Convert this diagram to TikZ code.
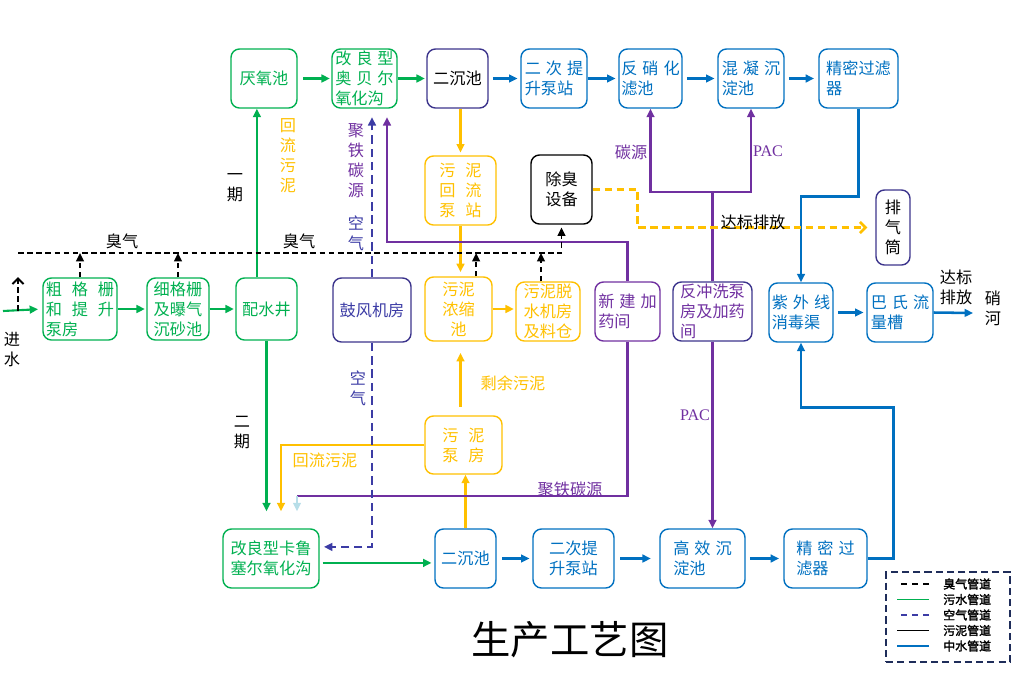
\documentclass[tikz,border=0pt]{standalone}
\usepackage{fontspec}
\setmainfont{Noto Sans CJK SC}[AutoFakeBold=2]
\newfontfamily\latin{Liberation Serif}
\usetikzlibrary{arrows.meta, positioning, calc}
\definecolor{sewgreen}{RGB}{0,176,80}
\definecolor{reuseblue}{RGB}{0,112,192}
\definecolor{sludgeorange}{RGB}{255,192,0}
\definecolor{dosepurple}{RGB}{112,48,160}
\definecolor{boxnavy}{RGB}{60,52,140}
\definecolor{airblue}{RGB}{60,60,165}
\definecolor{paleblue}{RGB}{183,222,232}
\definecolor{legnavy}{RGB}{31,45,90}
\newcommand{\sk}{\hspace{3.5pt}}
\newcommand{\skk}{\hspace{7pt}}

\begin{document}
\begin{tikzpicture}[x=0.025cm, y=-0.025cm,
  font=\fontsize{11.5}{14.2}\selectfont,
  arrtip/.style={-{Triangle[length=6pt, width=5.5pt]}},
  wh/.style 2 args={minimum width=#1*0.025cm, minimum height=#2*0.025cm},
  proc/.style={rectangle, rounded corners=6pt, line width=1pt,
              align=left, inner sep=1pt},
  gbox/.style={proc, draw=sewgreen, text=sewgreen},
  bbox/.style={proc, draw=reuseblue, text=reuseblue},
  obox/.style={proc, draw=sludgeorange, text=sludgeorange},
  pbox/.style={proc, draw=dosepurple, text=dosepurple},
  nbox/.style={proc, draw=boxnavy, text=black},
  kbox/.style={proc, draw=black, text=black},
  garr/.style={arrtip, line width=1.5pt, sewgreen},
  barr/.style={arrtip, line width=1.8pt, reuseblue},
  oarr/.style={arrtip, line width=1.5pt, sludgeorange},
  parr/.style={arrtip, line width=1.5pt, dosepurple},
  pline/.style={line width=1.5pt, dosepurple},
  narr/.style={arrtip, line width=1.8pt, airblue, dash pattern=on 6pt off 3.5pt},
  karr/.style={arrtip, line width=1.4pt, black, dash pattern=on 4pt off 2.5pt},
  kbarb/.style={-{Straight Barb[length=4pt, width=8pt]}, line width=1.4pt,
              black, dash pattern=on 4pt off 2.5pt},
  yarr/.style={-{Straight Barb[length=4pt, width=8pt]}, line width=1.8pt,
              sludgeorange, dash pattern=on 5.5pt off 3pt},
  lbl/.style={inner sep=0pt, align=center},
  legtxt/.style={inner sep=0pt, font=\fontsize{8.5}{10}\selectfont\bfseries},
  legodo/.style={black, line width=0.8pt, dash pattern=on 4pt off 4pt},
  legsew/.style={sewgreen, line width=1pt},
  legair/.style={airblue, line width=0.8pt, dash pattern=on 4pt off 4pt},
  legsld/.style={black, line width=0.8pt},
  legre/.style={reuseblue, line width=1pt}
]
\useasboundingbox (0,0) rectangle (1021,680);

% ── Top row: phase-1 line and tertiary treatment ──
\node[gbox, wh={66}{59}] (yy)   at (264,78.5)   {厌氧池};
\node[gbox, wh={65}{59}] (abr)  at (364.5,78.5) {改\sk{}良\sk{}型\\奥\sk{}贝\sk{}尔\\氧化沟};
\node[nbox, wh={61}{59}] (ec1)  at (457.5,78.5) {二沉池};
\node[bbox, wh={66}{59}] (tsb1) at (554,78.5)   {二\sk{}次\sk{}提\\升泵站};
\node[bbox, wh={63}{59}] (fxh)  at (650.5,78.5) {反\sk{}硝\sk{}化\\滤池};
\node[bbox, wh={66}{59}] (hnc)  at (751,78.5)   {混\sk{}凝\sk{}沉\\淀池};
\node[bbox, wh={79}{59}] (jm1)  at (858.5,78.5) {精密过滤\\器};

% ── Middle: sludge return, deodorising, stack ──
\node[obox, wh={71}{69}] (hlb) at (460.5,190.5) {污\skk{}泥\\回\skk{}流\\泵\skk{}站};
\node[kbox, wh={61}{69}] (cc)  at (561.5,189.5) {除臭\\设备};
\node[nbox, wh={34}{75}, align=center] (pqt) at (893,227.5) {排\\气\\筒};

% ── Second row: pretreatment, blowers, sludge, dosing, outfall ──
\node[gbox, wh={74}{62}] (cgs) at (80,309)    {粗\skk{}格\skk{}栅\\和\skk{}提\skk{}升\\泵房};
\node[gbox, wh={62}{62}] (xgs) at (178,309)   {细格栅\\及曝气\\沉砂池};
\node[gbox, wh={61}{62}] (psj) at (266.5,309) {配水井};
\node[nbox, wh={78}{64}, text=airblue] (gfj) at (372,310) {鼓风机房};
\node[obox, wh={67}{64}, align=center] (nsc) at (458.5,309) {污泥\\浓缩\\池};
\node[obox, wh={64}{59}] (tsj) at (548,311.5) {污泥脱\\水机房\\及料仓};
\node[pbox, wh={65}{59}] (xjy) at (627.5,311.5) {新\sk{}建\sk{}加\\药间};
\node[nbox, wh={79}{59}, text=dosepurple] (fcx) at (712.5,311.5) {反冲洗泵\\房及加药\\间};
\node[bbox, wh={64}{59}] (zwx) at (801,312.5) {紫\sk{}外\sk{}线\\消毒渠};
\node[bbox, wh={66}{59}] (bsl) at (900,312.5) {巴\sk{}氏\sk{}流\\量槽};

\node[obox, wh={77}{58}] (wnb) at (463.5,445) {污\skk{}泥\\泵\skk{}房};

% ── Bottom row: phase-2 line ──
\node[gbox, wh={96}{59}] (kls)  at (271,558.5)   {改良型卡鲁\\塞尔氧化沟};
\node[bbox, wh={61}{59}] (ec2)  at (465.5,558.5) {二沉池};
\node[bbox, wh={81}{59}, align=center] (tsb2) at (573.5,558.5) {二次提\\升泵站};
\node[bbox, wh={85}{59}] (gxc)  at (702.5,558.5) {高\sk{}效\sk{}沉\\淀池};
\node[bbox, wh={83}{59}] (jm2)  at (825.5,558.5) {精\sk{}密\sk{}过\\滤器};

% ── Sewage (green) ──
\coordinate (inw) at (3,311);
\draw[garr, shorten >=3pt] (inw) -- (cgs.west);
\draw[garr, shorten >=1pt] (cgs.east) -- (xgs.west);
\draw[garr, shorten >=1pt] (xgs.east) -- (psj.west);
\draw[garr] ([xshift=-0.24cm]psj.north) -- ([xshift=-0.24cm]psj.north |- yy.south);
\draw[garr] (psj.south) -- ($(psj.south |- kls.north)+(0,-17)$);
\draw[garr, shorten <=4pt, shorten >=1pt] (yy.east) -- (abr.west);
\draw[garr, shorten >=1pt] (abr.east) -- (ec1.west);
\draw[garr, shorten <=2pt, shorten >=2pt] ([yshift=-0.11cm]kls.east) -- ([yshift=-0.11cm]kls.east -| ec2.west);

% ── Reclaimed water (blue) ──
\draw[barr, shorten <=3pt, shorten >=2pt] (ec1.east) -- (tsb1.west);
\draw[barr, shorten >=2pt] (tsb1.east) -- (fxh.west);
\draw[barr, shorten <=3pt, shorten >=2pt] (fxh.east) -- (hnc.west);
\draw[barr, shorten <=3pt, shorten >=3pt] (hnc.east) -- (jm1.west);
\draw[barr] (jm1.south) -- ++(0,88) -| (zwx.north);
\draw[barr, shorten <=3pt, shorten >=2pt] (zwx.east) -- (bsl.west);
\coordinate (outw) at (973,313);
\draw[barr] (bsl.east) -- (outw);
\draw[barr, shorten <=4pt, shorten >=2pt] (ec2.east) -- (tsb2.west);
\draw[barr, shorten <=4pt, shorten >=6pt] (tsb2.east) -- (gxc.west);
\draw[barr, shorten <=3pt, shorten >=3pt] (gxc.east) -- (jm2.west);
\draw[barr] (jm2.east) -- ++(26,0) |- ($(zwx.south)+(0,65)$) -- (zwx.south);

% ── Sludge (orange) ──
\draw[oarr, shorten >=2pt] (hlb.north |- ec1.south) -- (hlb.north);
\draw[oarr, shorten >=3pt] (hlb.south) -- (hlb.south |- nsc.north);
\draw[oarr, shorten >=1pt] (nsc.east) -- (nsc.east -| tsj.west);
\draw[oarr, shorten <=6pt, shorten >=8pt] (wnb.north -| hlb.south) -- (nsc.south -| hlb.south);
\draw[oarr] (ec2.north) -- (ec2.north |- wnb.south);
\draw[oarr] (wnb.west) -| ($(kls.north)+(10,-17)$);

% ── Dosing (purple) ──
\draw[parr, shorten >=6pt] (xjy.north) -- ++(0,-39) -| ([xshift=22.5*0.025cm]abr.south);
\coordinate (pend) at ($(kls.north)+(26,-32)$);
\draw[pline] (xjy.south) |- (pend);
\draw[arrtip, line width=1.2pt, paleblue] (pend) -- ++(0,15);
\draw[pline] (fcx.north) -- ++(0,-89) coordinate (pj);
\draw[parr] (pj) -| (fxh.south);
\draw[parr] (pj) -| (hnc.south);
\draw[parr] (fcx.south) -- (fcx.south |- gxc.north);

% ── Air (navy dashed) ──
\draw[narr, shorten >=6pt] (gfj.north) -- (gfj.north |- abr.south);
\draw[narr, shorten >=3pt] (gfj.south) |- ([yshift=0.29cm]kls.east);

% ── Odour (black dashed) and exhaust (yellow dashed) ──
\coordinate (odo) at (18,253);
\draw[karr, shorten >=2pt] (odo) -| (cc.south);
\draw[karr] (cgs.north) -- (cgs.north |- odo);
\draw[karr] (xgs.north) -- (xgs.north |- odo);
\draw[karr] ([xshift=0.44cm]nsc.north) -- ([xshift=0.44cm]nsc.north |- odo);
\draw[karr] ([xshift=-0.175cm]tsj.north) -- ([xshift=-0.175cm]tsj.north |- odo);
\draw[kbarb] ($(inw)+(15,0)$) -- ++(0,-34);
\draw[yarr] (cc.east) -- ++(45,0) |- ($(pqt.west)+(-8,0)$);

% ── Labels ──
\node[lbl] (lin)  at (12,350)  {进\\水};
\node[lbl] (lp1)  at (235,188) {一\\期};
\node[lbl] (lp2)  at (242,433) {二\\期};
\node[lbl] (lod1) at (122,241) {臭气};
\node[lbl] (lod2) at (299,241) {臭气};
\node[lbl, text=sludgeorange] (lret) at (288,156) {回\\流\\污\\泥};
\node[lbl, text=dosepurple] (lfe1) at (356,161) {聚\\铁\\碳\\源};
\node[lbl, text=airblue] (lair1) at (356,233) {空\\气};
\node[lbl, text=airblue] (lair2) at (358,388) {空\\气};
\node[lbl, text=dosepurple] (lc) at (631,152) {碳源};
\node[lbl, text=dosepurple] (lpac1) at (768,151) {\latin PAC};
\node[lbl, text=dosepurple] (lpac2) at (695,415) {\latin PAC};
\node[lbl] (lstd1) at (753,222) {达标排放};
\node[lbl, text=sludgeorange] (lsur) at (513,383) {剩余污泥};
\node[lbl, text=sludgeorange] (lret2) at (325,460) {回流污泥};
\node[lbl, text=dosepurple] (lfe2) at (570,489) {聚铁碳源};
\node[lbl] (lstd2) at (956,287) {达标\\排放};
\node[lbl] (lriv) at (993,308) {硝\\河};

% ── Title ──
\node[lbl, font=\fontsize{28}{30}\selectfont] (ttl) at (570,640) {生产工艺图};

% ── Legend ──
\node[draw=legnavy, line width=1.5pt, dash pattern=on 5pt off 3pt,
      wh={124}{90}] (leg) at (948,617) {};
\foreach \st/\tx [count=\i] in {legodo/臭气管道, legsew/污水管道,
    legair/空气管道, legsld/污泥管道, legre/中水管道} {
  \node[legtxt, anchor=west] (leg\i) at (943,568.5+15.5*\i) {\tx};
  \draw[\st] ([xshift=-0.35cm]leg\i.west) -- ++(-32,0);
}

\end{tikzpicture}
\end{document}
